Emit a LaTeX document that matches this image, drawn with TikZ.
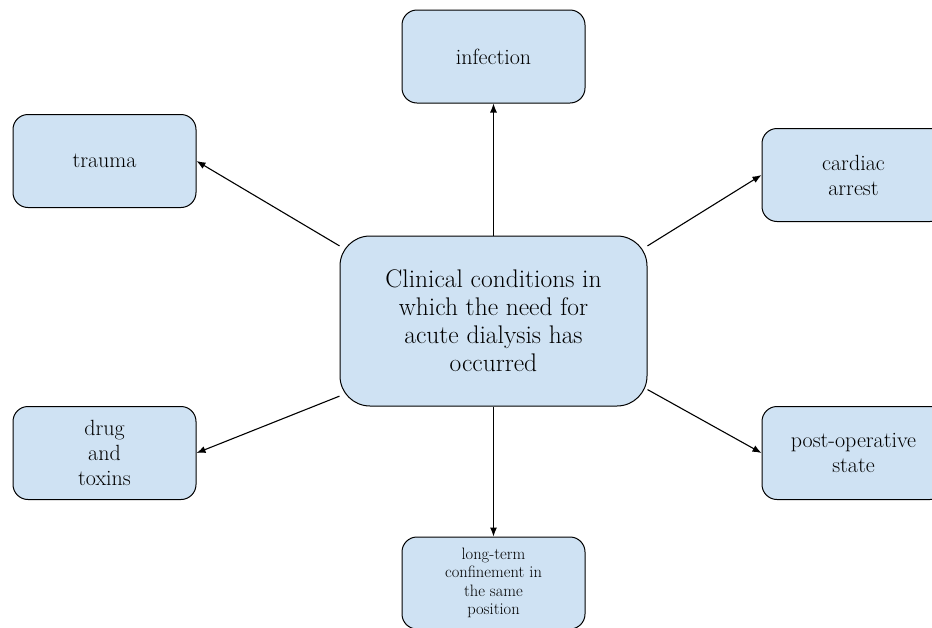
\documentclass[tikz,border=0pt]{standalone}
\usetikzlibrary{arrows.meta,positioning}
\definecolor{paleblue}{HTML}{CFE2F3}
\tikzset{
  cond/.style={rectangle,rounded corners=15pt,draw=black,line width=1pt,fill=paleblue,align=center,minimum width=183pt,minimum height=93pt,inner sep=4pt,font=\fontsize{22}{25}\selectfont},
  hubbox/.style={rectangle,rounded corners=30pt,draw=black,line width=1pt,fill=paleblue,align=center,minimum width=307pt,minimum height=170pt,font=\fontsize{25.5}{28}\selectfont},
  arrow/.style={-{Latex[length=9pt,width=7pt]},line width=1.1pt,black}
}
\begin{document}
\begin{tikzpicture}[x=1pt,y=-1pt]
    \useasboundingbox (0,0) rectangle (932,627);
    \node[hubbox] (hub) at (493.5,321) {Clinical conditions in\\which the need for\\acute dialysis has\\occurred};
    \node[cond] (infection) at (493.5,56.5) {infection};
    \node[cond] (trauma) at (104.5,161) {trauma};
    \node[cond] (cardiac) at (853.5,175) {cardiac\\arrest};
    \node[cond] (drug) at (104.5,453) {drug\\and\\toxins};
    \node[cond] (postop) at (853.5,453) {post-operative\\state};
    \node[cond,minimum height=92pt,font=\fontsize{16.5}{18.5}\selectfont] (confine) at (493.5,583) {long-term\\confinement in\\the same\\position};
    \draw[arrow] (hub) -- (infection);
    \draw[arrow] (hub.154) -- (trauma.east);
    \draw[arrow] (hub.26) -- (cardiac.west);
    \draw[arrow] (hub.206) -- (drug.east);
    \draw[arrow] (hub.336.5) -- (postop.west);
    \draw[arrow] (hub) -- (confine);
  \end{tikzpicture}
\end{document}
